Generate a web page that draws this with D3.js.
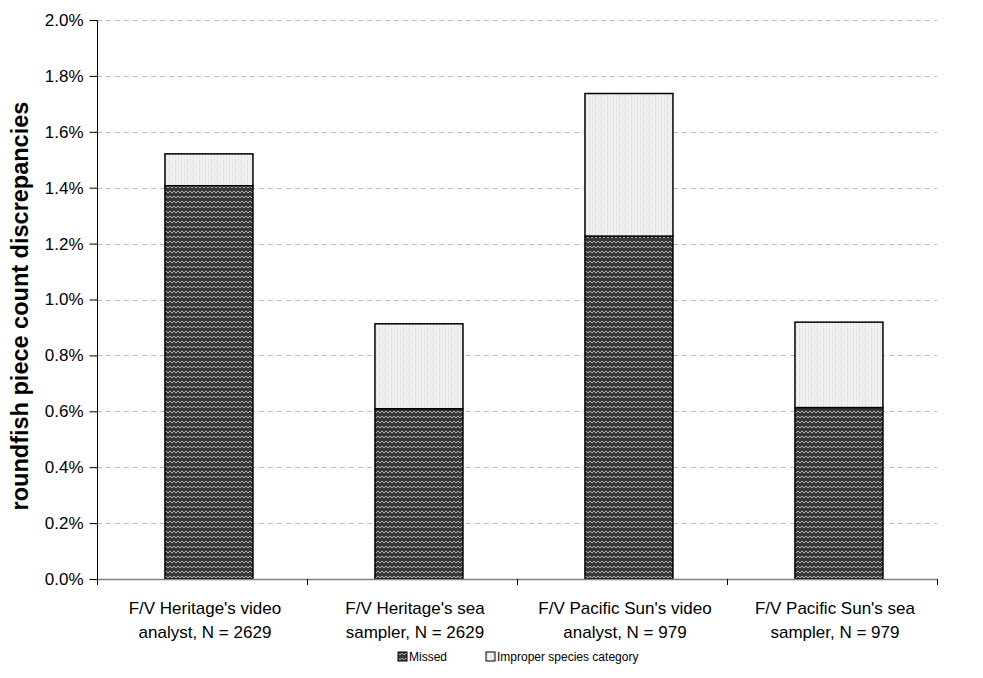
<!DOCTYPE html>
<html>
<head>
<meta charset="utf-8">
<script src="https://cdn.jsdelivr.net/npm/d3@7"></script>
<style>
  html, body { margin: 0; padding: 0; background: #fff; }
  svg { display: block; font-family: "Liberation Sans", Arial, sans-serif; }
</style>
</head>
<body>
<svg id="chart" width="983" height="678"></svg>
<script>
// Observer categories (two-line labels)
const categories = [
  ["F/V Heritage's video", "analyst, N = 2629"],
  ["F/V Heritage's sea", "sampler, N = 2629"],
  ["F/V Pacific Sun's video", "analyst, N = 979"],
  ["F/V Pacific Sun's sea", "sampler, N = 979"]
];
// Discrepancy rates (%) by type
const missed = [1.407, 0.609, 1.226, 0.613];
const improper = [0.114, 0.304, 0.511, 0.306];
const seriesNames = ["Missed", "Improper species category"];
const yTicks = [0, 0.2, 0.4, 0.6, 0.8, 1.0, 1.2, 1.4, 1.6, 1.8, 2.0];

const svg = d3.select("#chart");
const m = { left: 97, right: 937, top: 20, bottom: 579 };

const keys = categories.map((c, i) => i);
const x = d3.scaleBand().domain(keys).range([m.left, m.right])
  .paddingInner(0.581).paddingOuter(0.2905).align(0.557);
const y = d3.scaleLinear().domain([0, 2.0]).range([m.bottom, m.top]);

// Fill patterns
const defs = svg.append("defs");
const zig = defs.append("pattern").attr("id", "pMissed")
  .attr("patternUnits", "userSpaceOnUse").attr("width", 8).attr("height", 5);
zig.append("rect").attr("width", 8).attr("height", 5).attr("fill", "#383838");
zig.append("path").attr("d", "M0,3 L2,1 L4,3 L6,1 L8,3")
  .attr("fill", "none").attr("stroke", "#b0b0b0").attr("stroke-width", 1);

const dot = defs.append("pattern").attr("id", "pImproper")
  .attr("patternUnits", "userSpaceOnUse").attr("width", 6).attr("height", 4);
dot.append("rect").attr("width", 6).attr("height", 4).attr("fill", "#f2f2f2");
dot.append("rect").attr("x", 1).attr("y", 0).attr("width", 1).attr("height", 1).attr("fill", "#cfcfcf");
dot.append("rect").attr("x", 1).attr("y", 2).attr("width", 1).attr("height", 1).attr("fill", "#cfcfcf");
dot.append("rect").attr("x", 4).attr("y", 1).attr("width", 1).attr("height", 1).attr("fill", "#dcdcdc");
dot.append("rect").attr("x", 4).attr("y", 3).attr("width", 1).attr("height", 1).attr("fill", "#dcdcdc");

// Horizontal dashed gridlines
svg.append("g").selectAll("line").data(yTicks.filter(t => t > 0)).join("line")
  .attr("x1", m.left).attr("x2", m.right)
  .attr("y1", d => Math.round(y(d)) + 0.5).attr("y2", d => Math.round(y(d)) + 0.5)
  .attr("stroke", "#bdbdbd").attr("stroke-width", 1).attr("stroke-dasharray", "5,4");

// Stacked bars
const bars = svg.append("g");
keys.forEach(i => {
  const bx = x(i), bw = x.bandwidth();
  bars.append("rect")
    .attr("x", bx).attr("width", bw)
    .attr("y", y(missed[i] + improper[i])).attr("height", y(missed[i]) - y(missed[i] + improper[i]))
    .attr("fill", "url(#pImproper)").attr("stroke", "#000").attr("stroke-width", 1.5);
  bars.append("rect")
    .attr("x", bx).attr("width", bw)
    .attr("y", y(missed[i])).attr("height", y(0) - y(missed[i]))
    .attr("fill", "url(#pMissed)").attr("stroke", "#000").attr("stroke-width", 1.5);
});

// X axis baseline with ticks at category boundaries
const catW = (m.right - m.left) / categories.length;
const bounds = d3.range(categories.length + 1).map(k => m.left + k * catW);
const xg = svg.append("g");
xg.append("line").attr("x1", m.left).attr("x2", m.right)
  .attr("y1", m.bottom + 0.5).attr("y2", m.bottom + 0.5)
  .attr("stroke", "#808080").attr("stroke-width", 1.5);
xg.selectAll("line.tick").data(bounds).join("line").attr("class", "tick")
  .attr("x1", d => Math.round(d) + 0.5).attr("x2", d => Math.round(d) + 0.5)
  .attr("y1", m.bottom).attr("y2", m.bottom + 6)
  .attr("stroke", "#000").attr("stroke-width", 1);
xg.selectAll("text").data(keys).join("text")
  .attr("x", i => x(i) + x.bandwidth() / 2)
  .attr("y", m.bottom + 35)
  .attr("text-anchor", "middle").attr("font-size", 17).attr("fill", "#000")
  .each(function(i) {
    const t = d3.select(this);
    categories[i].forEach((line, k) => {
      t.append("tspan").attr("x", x(i) + x.bandwidth() / 2 - 4)
        .attr("dy", k === 0 ? 0 : 24).text(line);
    });
  });

// Y axis
const yAxis = d3.axisLeft(y).tickValues(yTicks).tickSize(8).tickPadding(6)
  .tickFormat(d => d.toFixed(1) + "%");
const yg = svg.append("g").attr("transform", `translate(${m.left + 0.5},0)`).call(yAxis);
yg.select(".domain").attr("stroke", "#000").attr("d", `M0,${m.top}V${m.bottom}`);
yg.selectAll(".tick line").attr("stroke", "#000");
yg.selectAll(".tick text").attr("font-size", 17).attr("fill", "#000")
  .attr("font-family", "Liberation Sans, Arial, sans-serif");

// Y axis title
svg.append("text")
  .attr("transform", `translate(28,306) rotate(-90)`)
  .attr("text-anchor", "middle").attr("font-size", 23.5).attr("font-weight", "bold")
  .attr("fill", "#000").text("roundfish piece count discrepancies");

// Legend
const legend = svg.append("g").attr("transform", "translate(0,657)");
const fills = ["url(#pMissed)", "url(#pImproper)"];
const legX = [398, 486];
seriesNames.forEach((name, k) => {
  legend.append("rect").attr("x", legX[k]).attr("y", -5).attr("width", 9).attr("height", 9)
    .attr("fill", fills[k]).attr("stroke", "#000").attr("stroke-width", 1);
  legend.append("text").attr("x", legX[k] + 11).attr("y", 4)
    .attr("font-size", 12).attr("fill", "#000").text(name);
});
</script>
</body>
</html>
